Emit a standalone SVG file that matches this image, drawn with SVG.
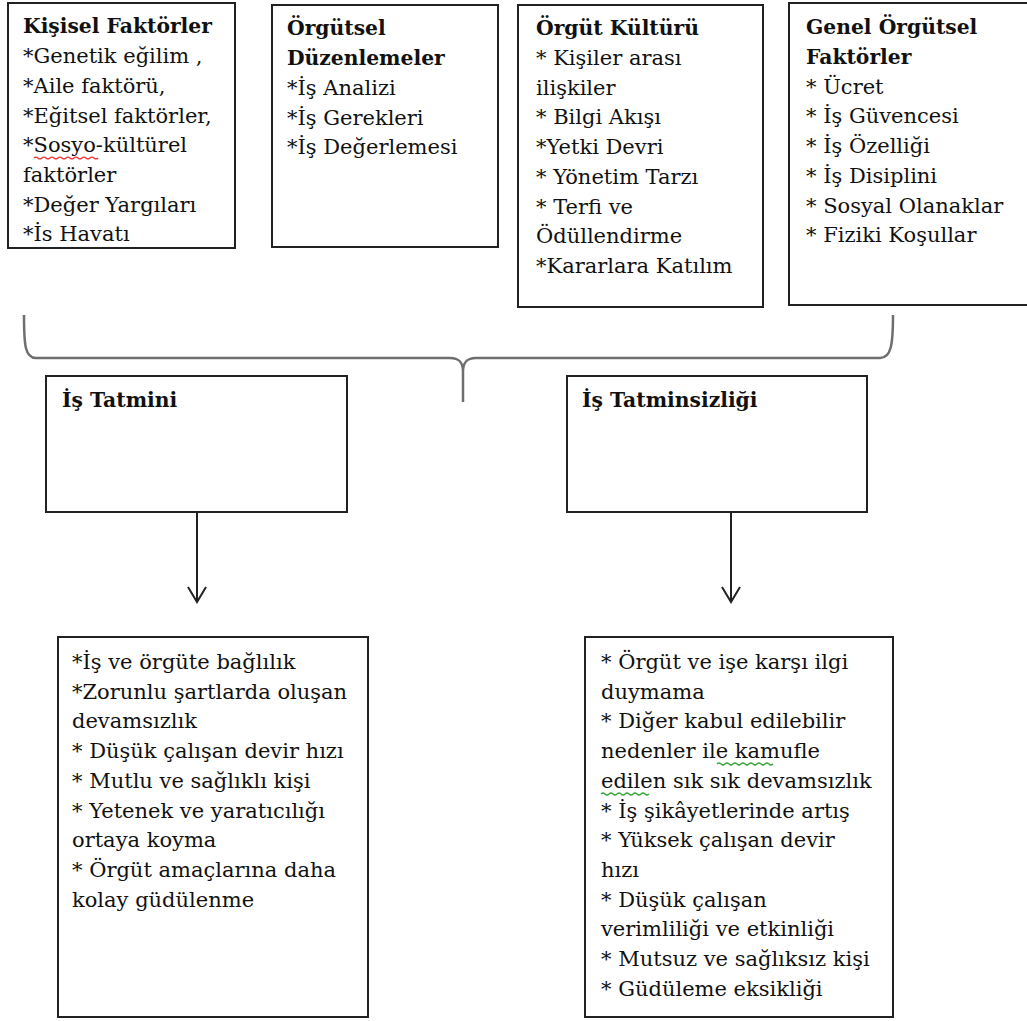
<svg xmlns="http://www.w3.org/2000/svg" width="1027" height="1021" viewBox="0 0 1027 1021">
<style>
.box{fill:#fff;stroke:#222;stroke-width:2}
text{font-family:"DejaVu Serif","Liberation Serif",serif;font-size:21px;fill:#111}
.b{font-weight:bold;font-size:20.3px}
.conn{stroke:#222;stroke-width:2;fill:none}
.brace{stroke:#6e6e6e;stroke-width:2.5;fill:none}
.sq{fill:none;stroke-width:1.2}
</style>
<defs>
<marker id="arr" viewBox="0 0 20 20" refX="18" refY="10" markerWidth="20" markerHeight="20" markerUnits="userSpaceOnUse" orient="auto">
<path d="M3,1 L18,10 L3,19" fill="none" stroke="#222" stroke-width="2"/>
</marker>
<clipPath id="clip1"><rect x="8" y="3" width="227" height="238"/></clipPath>
</defs>
<rect width="1027" height="1021" fill="#fff"/>

<g id="kisisel">
<rect class="box" x="8" y="3" width="227" height="245"/>
<g clip-path="url(#clip1)">
<text x="23" y="33"><tspan class="b">Kişisel Faktörler</tspan>
<tspan x="23" dy="30.2">*Genetik eğilim ,</tspan>
<tspan x="23" dy="29.7">*Aile faktörü,</tspan>
<tspan x="23" dy="29.7">*Eğitsel faktörler,</tspan>
<tspan x="23" dy="29.7">*Sosyo-kültürel</tspan>
<tspan x="23" dy="29.7">faktörler</tspan>
<tspan x="23" dy="29.7">*Değer Yargıları</tspan>
<tspan x="23" dy="29.7">*İş Hayatı</tspan></text>
</g>
<path class="sq" stroke="#e33" d="M34,158 q2,-2 4,0 t4,0 t4,0 t4,0 t4,0 t4,0 t4,0 t4,0 t4,0 t4,0 t4,0 t4,0 t4,0 t4,0 t4,0 t4,0"/>
</g>

<g id="duzenlemeler">
<rect class="box" x="272" y="5" width="226" height="242"/>
<text x="287" y="35"><tspan class="b">Örgütsel</tspan>
<tspan class="b" x="287" dy="30">Düzenlemeler</tspan>
<tspan x="287" dy="30">*İş Analizi</tspan>
<tspan x="287" dy="29.7">*İş Gerekleri</tspan>
<tspan x="287" dy="29.7">*İş Değerlemesi</tspan></text>
</g>

<g id="kultur">
<rect class="box" x="518" y="5" width="245" height="302"/>
<text x="536" y="35"><tspan class="b">Örgüt Kültürü</tspan>
<tspan x="536" dy="30">* Kişiler arası</tspan>
<tspan x="536" dy="29.7">ilişkiler</tspan>
<tspan x="536" dy="29.7">* Bilgi Akışı</tspan>
<tspan x="536" dy="29.7">*Yetki Devri</tspan>
<tspan x="536" dy="29.7">* Yönetim Tarzı</tspan>
<tspan x="536" dy="29.7">* Terfi ve</tspan>
<tspan x="536" dy="29.7">Ödüllendirme</tspan>
<tspan x="536" dy="29.7">*Kararlara Katılım</tspan></text>
</g>

<g id="genel">
<rect class="box" x="789" y="3" width="260" height="302"/>
<text x="806" y="34"><tspan class="b">Genel Örgütsel</tspan>
<tspan class="b" x="806" dy="30">Faktörler</tspan>
<tspan x="806" dy="29.7">* Ücret</tspan>
<tspan x="806" dy="29.7">* İş Güvencesi</tspan>
<tspan x="806" dy="29.7">* İş Özelliği</tspan>
<tspan x="806" dy="29.7">* İş Disiplini</tspan>
<tspan x="806" dy="29.7">* Sosyal Olanaklar</tspan>
<tspan x="806" dy="29.7">* Fiziki Koşullar</tspan></text>
</g>

<g id="tatmin">
<rect class="box" x="46" y="376" width="301" height="136"/>
<text class="b" x="62" y="407">İş Tatmini</text>
</g>

<g id="tatminsizlik">
<rect class="box" x="567" y="376" width="300" height="136"/>
<text class="b" x="582" y="407">İş Tatminsizliği</text>
</g>

<g id="sonuc-tatmin">
<rect class="box" x="58" y="637" width="310" height="380"/>
<text x="72" y="669"><tspan>*İş ve örgüte bağlılık</tspan>
<tspan x="72" dy="29.7">*Zorunlu şartlarda oluşan</tspan>
<tspan x="72" dy="29.7">devamsızlık</tspan>
<tspan x="72" dy="29.7">* Düşük çalışan devir hızı</tspan>
<tspan x="72" dy="29.7">* Mutlu ve sağlıklı kişi</tspan>
<tspan x="72" dy="29.7">* Yetenek ve yaratıcılığı</tspan>
<tspan x="72" dy="29.7">ortaya koyma</tspan>
<tspan x="72" dy="29.7">* Örgüt amaçlarına daha</tspan>
<tspan x="72" dy="29.7">kolay güdülenme</tspan></text>
</g>

<g id="sonuc-tatminsizlik">
<rect class="box" x="585" y="637" width="308" height="380"/>
<text x="601" y="669"><tspan>* Örgüt ve işe karşı ilgi</tspan>
<tspan x="601" dy="29.7">duymama</tspan>
<tspan x="601" dy="29.7">* Diğer kabul edilebilir</tspan>
<tspan x="601" dy="29.7">nedenler ile kamufle</tspan>
<tspan x="601" dy="29.7">edilen sık sık devamsızlık</tspan>
<tspan x="601" dy="29.7">* İş şikâyetlerinde artış</tspan>
<tspan x="601" dy="29.7">* Yüksek çalışan devir</tspan>
<tspan x="601" dy="29.7">hızı</tspan>
<tspan x="601" dy="29.7">* Düşük çalışan</tspan>
<tspan x="601" dy="29.7">verimliliği ve etkinliği</tspan>
<tspan x="601" dy="29.7">* Mutsuz ve sağlıksız kişi</tspan>
<tspan x="601" dy="29.7">* Güdüleme eksikliği</tspan></text>
<path class="sq" stroke="#3a3" d="M717,764 q2,-2 4,0 t4,0 t4,0 t4,0 t4,0 t4,0 t4,0 t4,0 t4,0 t4,0 t4,0 t4,0 t4,0 t4,0"/>
<path class="sq" stroke="#3a3" d="M601,794 q2,-2 4,0 t4,0 t4,0 t4,0 t4,0 t4,0 t4,0 t4,0 t4,0 t4,0 t4,0 t4,0"/>
</g>

<g id="connectors">
<path class="brace" d="M24,315 C24,345 25,358 36,358 L450,358 C459,358 463,362 463,372 L463,402 M463,372 C463,362 467,358 476,358 L880,358 C891,358 893,345 893,315"/>
<line class="conn" x1="197" y1="512" x2="197" y2="602" marker-end="url(#arr)"/>
<line class="conn" x1="731" y1="512" x2="731" y2="602" marker-end="url(#arr)"/>
</g>
</svg>
